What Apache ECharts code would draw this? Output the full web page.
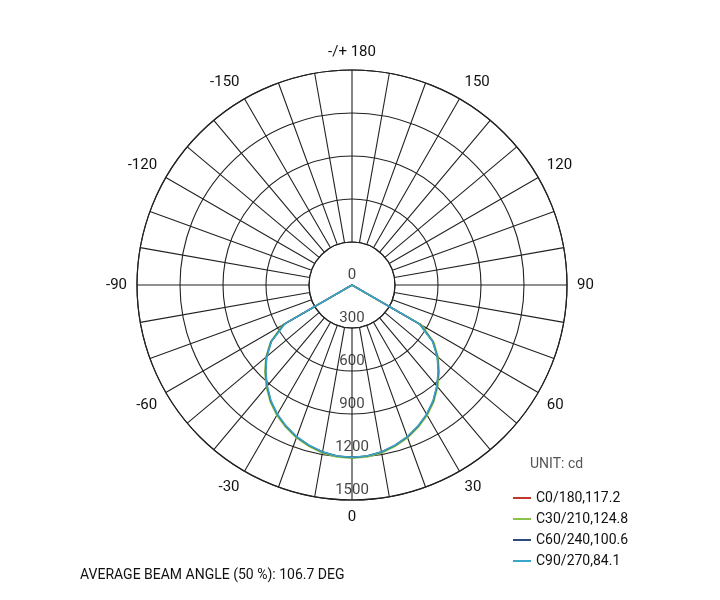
<!DOCTYPE html>
<html><head><meta charset="utf-8">
<script src="https://cdn.jsdelivr.net/npm/echarts@6/dist/echarts.min.js"></script>
<style>html,body{margin:0;background:#fff}#c{width:720px;height:600px}</style>
</head><body><div id="c"></div>
<script>
const angles = [-90, -60, -55, -50, -45, -40, -35, -30, -25, -20, -15, -10, -5, 0, 5, 10, 15, 20, 25, 30, 35, 40, 45, 50, 55, 60, 90];
const c0  = [0, 550, 690, 780, 855, 925, 990, 1045, 1090, 1130, 1160, 1185, 1200, 1205, 1200, 1185, 1160, 1130, 1090, 1045, 990, 925, 855, 780, 690, 550, 0];
const c30 = [0, 560, 695, 785, 860, 930, 995, 1050, 1095, 1135, 1165, 1190, 1204, 1208, 1204, 1190, 1165, 1135, 1095, 1050, 995, 930, 860, 785, 698, 565, 0];
const c60 = [0, 545, 688, 778, 853, 922, 988, 1042, 1088, 1128, 1158, 1183, 1198, 1203, 1198, 1183, 1158, 1128, 1088, 1042, 988, 922, 853, 778, 688, 545, 0];
const c90 = [0, 540, 685, 775, 850, 920, 985, 1040, 1086, 1126, 1156, 1182, 1197, 1202, 1197, 1182, 1156, 1126, 1086, 1040, 985, 920, 850, 775, 685, 540, 0];
const radialTicks = [0, 300, 600, 900, 1200, 1500];
const seriesNames = ['C0/180,117.2', 'C30/210,124.8', 'C60/240,100.6', 'C90/270,84.1'];
const colors = ['#c0392b', '#8bc34a', '#2c4a7c', '#3aa6c9'];
const font = 'Roboto';
const chart = echarts.init(document.getElementById('c'));
const mk = a => a.map((v, i) => [v, angles[i]]);
const angleBase = {type:'value', min:-180, max:180, interval:10, startAngle:90, clockwise:false};
chart.setOption({
  animation:false,
  polar:[
    {center:[352,285], radius:[43,215]},
    {center:[352,285], radius:[0,215]}
  ],
  angleAxis:[
    Object.assign({polarIndex:0, axisLine:{lineStyle:{color:'#222', width:1.2}}, axisTick:{show:false},
      splitLine:{lineStyle:{color:'#222', width:1.1}},
      axisLabel:{show:false}}, angleBase),
    Object.assign({polarIndex:1, axisLine:{show:false}, axisTick:{show:false}, splitLine:{show:false},
      axisLabel:{margin:10, fontFamily:font, fontSize:15, color:'#111',
        formatter:v => v === -180 ? '-/+ 180' : (v % 30 === 0 && v !== 180 ? String(v) : '')}}, angleBase)
  ],
  radiusAxis:[
    {polarIndex:0, min:300, max:1500, interval:300, axisLine:{show:false}, axisTick:{show:false},
      axisLabel:{show:false}, splitLine:{lineStyle:{color:'#222', width:1.1}}},
    {polarIndex:1, min:0, max:1500, interval:300, axisLine:{show:false}, axisTick:{show:false},
      axisLabel:{show:false}, splitLine:{show:false}}
  ],
  legend:{orient:'vertical', left:508, top:486, itemGap:7, itemWidth:18, itemHeight:2,
    icon:'rect', textStyle:{fontFamily:font, fontSize:14, color:'#111'},
    data:seriesNames},
  graphic:[
    {type:'text', left:530, top:457, style:{text:'UNIT: cd', font:'14px '+font, fill:'#555'}},
    {type:'text', left:80, top:568, style:{text:'AVERAGE BEAM ANGLE (50 %): 106.7 DEG', font:'14px '+font, fill:'#111'}}
  ],
  series:[
    ...[c0, c30, c60, c90].map((d, i) => ({
      type:'line', coordinateSystem:'polar', polarIndex:1, name:seriesNames[i],
      data:mk(d), showSymbol:false, smooth:false,
      lineStyle:{color:colors[i], width:1.5}, itemStyle:{color:colors[i]}, z:3+i
    })),
    {type:'scatter', coordinateSystem:'polar', polarIndex:1, symbolSize:0, silent:true, z:10,
      data:radialTicks.map(v => [v, 0]),
      label:{show:true, position:'inside', offset:[0,-10], formatter:p => String(p.value[0]),
        fontFamily:font, fontSize:15, color:'#111'}}
  ]
});
</script></body></html>
